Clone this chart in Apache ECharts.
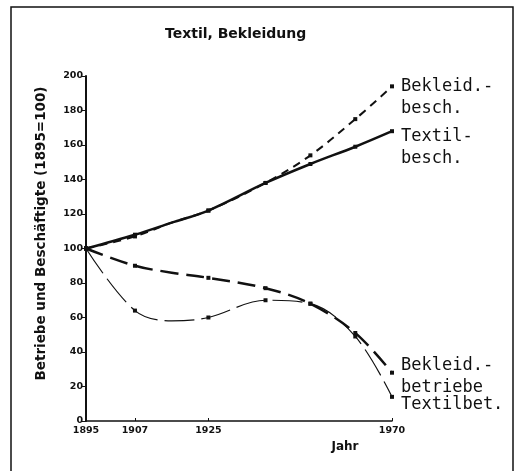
<!DOCTYPE html>
<html lang="de">
<head>
  <meta charset="UTF-8">
  <title>Textil, Bekleidung</title>
  <style>
    * { margin: 0; padding: 0; }
    body { background: #fff; }
    #chart { width: 521px; height: 471px; }
  </style>
</head>
<body>
  <div id="chart"></div>
  <script src="https://cdn.jsdelivr.net/npm/echarts@6/dist/echarts.min.js"></script>
  <script>
    // Jahre (Zählungen) und Indexwerte, 1895 = 100
    const years = [1895, 1907, 1916, 1925, 1939, 1950, 1961, 1970];
    const tickYears = [1895, 1907, 1925, 1970];
    const textilBesch = [100, 108, 115, 122, 138, 149, 159, 168];
    const bekleidBesch = [100, 107, 115, 122, 138, 154, 175, 194];
    const bekleidBetriebe = [100, 90, 86, 83, 77, 68, 51, 28];
    const textilBet = [100, 64, 58, 60, 70, 68, 49, 14];

    const pairs = vals => years.map((y, i) => [y, vals[i]]);
    // 1916 ist nur ein Stützpunkt der Kurve, ohne Markierung
    const symSize = (v, p) => (years[p.dataIndex] === 1916 ? 0 : 4);

    const mono = 'DejaVu Sans Mono';
    const sans = 'DejaVu Sans';

    function line(name, vals, style, label, offsetY) {
      return {
        name: name,
        type: 'line',
        data: pairs(vals),
        smooth: 0.35,
        symbol: 'rect',
        symbolSize: symSize,
        itemStyle: { color: '#111' },
        lineStyle: Object.assign({ color: '#111' }, style),
        endLabel: {
          show: true,
          formatter: label,
          distance: 9,
          offset: [0, offsetY],
          fontFamily: mono,
          fontSize: 17,
          lineHeight: 22,
          color: '#111'
        },
        animation: false
      };
    }

    const chart = echarts.init(document.getElementById('chart'));
    chart.setOption({
      animation: false,
      title: {
        text: 'Textil, Bekleidung',
        left: 160,
        top: 22,
        textStyle: { fontFamily: sans, fontWeight: 'bold', fontSize: 14, color: '#111' }
      },
      graphic: [{
        type: 'rect',
        shape: { x: 11, y: 7, width: 502, height: 480 },
        style: { fill: 'none', stroke: '#111', lineWidth: 1.5 },
        silent: true
      }],
      grid: { left: 86, right: 129, top: 76, bottom: 50 },
      xAxis: {
        type: 'value',
        min: 1895,
        max: 1970,
        name: 'Jahr',
        nameLocation: 'middle',
        nameGap: 20,
        nameTextStyle: {
          fontFamily: sans, fontWeight: 'bold', fontSize: 12, color: '#111',
          padding: [0, 0, 0, 212]
        },
        splitLine: { show: false },
        axisLine: { lineStyle: { color: '#111', width: 1.5 } },
        axisTick: { customValues: tickYears, length: 3, inside: true, lineStyle: { color: '#111' } },
        axisLabel: {
          customValues: tickYears,
          formatter: v => String(v),
          fontFamily: sans, fontWeight: 'bold', fontSize: 9.5, color: '#111', margin: 5
        }
      },
      yAxis: {
        type: 'value',
        min: 0,
        max: 200,
        interval: 20,
        name: 'Betriebe und Beschäftigte (1895=100)',
        nameLocation: 'middle',
        nameGap: 38,
        nameTextStyle: {
          fontFamily: sans, fontWeight: 'bold', fontSize: 13.5, color: '#111',
          padding: [0, 0, 0, 30]
        },
        splitLine: { show: false },
        axisLine: { show: true, lineStyle: { color: '#111', width: 2 } },
        axisTick: { show: true, length: 4, lineStyle: { color: '#111' } },
        axisLabel: { fontFamily: sans, fontWeight: 'bold', fontSize: 9.5, color: '#111', margin: 3 }
      },
      series: [
        line('Bekleid.-besch.', bekleidBesch, { width: 2, type: [8, 6] }, 'Bekleid.-\nbesch.', 11),
        line('Textil-besch.', textilBesch, { width: 2.5 }, 'Textil-\nbesch.', 16),
        line('Bekleid.-betriebe', bekleidBetriebe, { width: 2.5, type: [18, 8] }, 'Bekleid.-\nbetriebe', 4),
        line('Textilbet.', textilBet, { width: 1.2, type: [30, 7] }, 'Textilbet.', 8)
      ]
    });
  </script>
</body>
</html>
